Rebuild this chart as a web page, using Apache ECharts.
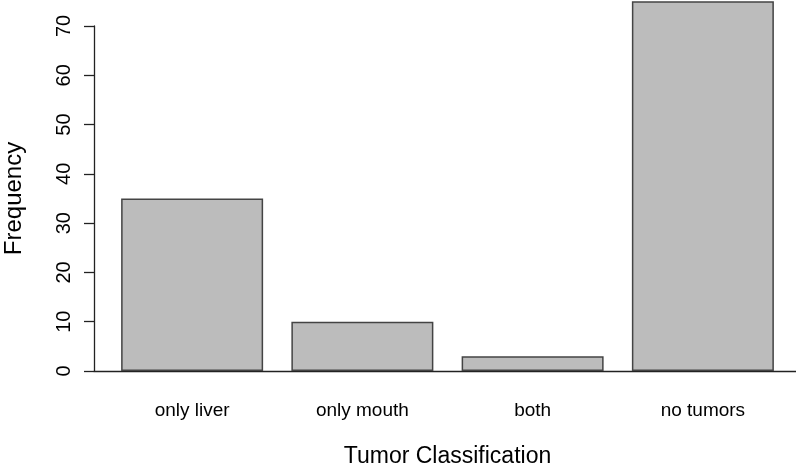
<!DOCTYPE html>
<html>
<head>
<meta charset="utf-8">
<script src="https://cdn.jsdelivr.net/npm/echarts@6/dist/echarts.min.js"></script>
<style>
  html, body { margin: 0; padding: 0; background: #fff; }
  #chart { width: 796px; height: 468px; }
</style>
</head>
<body>
<div id="chart"></div>
<script>
// Tumor classification counts
const categories = ['only liver', 'only mouth', 'both', 'no tumors'];
const frequencies = [35, 10, 3, 75];
const yTicks = [0, 10, 20, 30, 40, 50, 60, 70];

const FONT = 'Liberation Sans, Arial, Helvetica, sans-serif';
const baseY = 371;            // pixel row of the zero line
const pxPerUnit = 345 / 70;   // vertical scale shared by both grids

const chart = echarts.init(document.getElementById('chart'), null, { renderer: 'canvas' });

chart.setOption({
  animation: false,
  backgroundColor: '#ffffff',
  grid: [
    // bars
    { left: 107, width: 681, top: baseY - 75 * pxPerUnit, bottom: 468 - baseY,
      containLabel: false, outerBoundsMode: 'none' },
    // frequency axis (0..70) and zero line
    { left: 94, right: 0, top: baseY - yTicks[yTicks.length - 1] * pxPerUnit, bottom: 468 - baseY,
      containLabel: false, outerBoundsMode: 'none' }
  ],
  xAxis: [
    {
      gridIndex: 0,
      type: 'category',
      data: categories,
      axisLine: { show: false },
      axisTick: { show: false },
      axisLabel: { color: '#000', fontFamily: FONT, fontSize: 19, margin: 30 },
      name: 'Tumor Classification',
      nameLocation: 'middle',
      nameGap: 74,
      nameTextStyle: { color: '#000', fontFamily: FONT, fontSize: 23 }
    },
    {
      gridIndex: 1,
      type: 'value',
      min: 0, max: 1,
      axisLine: { show: true, lineStyle: { color: '#222', width: 1.3 } },
      axisTick: { show: false },
      axisLabel: { show: false },
      splitLine: { show: false }
    }
  ],
  yAxis: [
    {
      gridIndex: 0,
      type: 'value',
      min: 0, max: 75,
      show: false
    },
    {
      gridIndex: 1,
      type: 'value',
      min: 0, max: 70, interval: 10,
      axisLine: { show: true, lineStyle: { color: '#222', width: 1.3 } },
      axisTick: { show: true, length: 10, lineStyle: { color: '#222', width: 1.3 } },
      axisLabel: {
        color: '#000', fontFamily: FONT, fontSize: 20, rotate: 90, margin: 20,
        formatter: v => (yTicks.includes(v) ? String(v) : '')
      },
      splitLine: { show: false },
      name: 'Frequency',
      nameLocation: 'middle',
      nameGap: 68,
      nameRotate: 90,
      nameTextStyle: { color: '#000', fontFamily: FONT, fontSize: 24 }
    }
  ],
  series: [
    {
      type: 'bar',
      xAxisIndex: 0,
      yAxisIndex: 0,
      data: frequencies,
      barWidth: 142,
      itemStyle: { color: '#bcbcbc', borderColor: '#444', borderWidth: 1.5 },
      silent: true
    }
  ]
});
</script>
</body>
</html>
